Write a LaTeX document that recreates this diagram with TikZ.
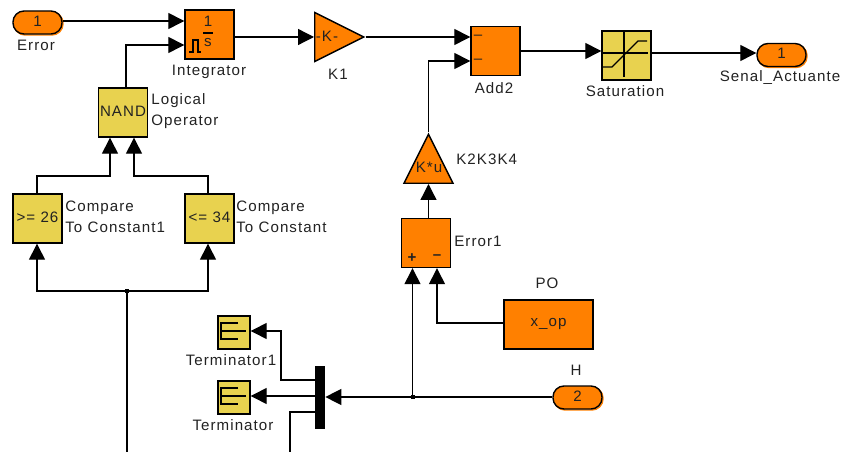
\documentclass[tikz,border=0pt]{standalone}
\usepackage{fontspec}
\setmainfont[LetterSpace=7]{Liberation Sans}
\usetikzlibrary{arrows.meta,shapes.geometric}
\definecolor{blockorange}{HTML}{FF8000}
\definecolor{blockyellow}{HTML}{E8D24F}
\definecolor{labelgray}{HTML}{222222}
\tikzset{
    orangebox/.style={draw,fill=blockorange,line width=.8pt,inner sep=0,minimum width=.98cm,minimum height=.98cm,text=labelgray,font=\fontsize{8.6}{10}\selectfont},
    yellowbox/.style={orangebox,fill=blockyellow},
    portbox/.style={orangebox,rounded corners=.22cm,minimum height=.46cm,preaction={draw=blockorange,transform canvas={shift={(.02cm,-.02cm)}}}},
    gainbox/.style={draw,fill=blockorange,line width=.8pt,isosceles triangle,isosceles triangle stretches,inner sep=0,minimum width=.98cm,minimum height=.98cm,anchor=lower side},
    lbl/.style={text=labelgray,font=\fontsize{8.6}{11.9}\selectfont,inner sep=0},
    sym/.style={text=labelgray,font=\fontsize{8.6}{10}\selectfont,inner sep=0},
    wire/.style={line width=.75pt,line join=miter},
    sig/.style={wire,-{Triangle[length=.32cm,width=.32cm]}}
}
\begin{document}
\begin{tikzpicture}[x=.02cm,y=-.02cm]
    \useasboundingbox (0,0) rectangle (849,452);
    % blocks
    \node[portbox] (err) at (37.5,22.5) {\raisebox{1.5pt}{1}};
    \node[orangebox] (integ) at (209.5,34.5) {};
    \node[yellowbox] (nand) at (123,112.5) {\raisebox{1.5pt}{NAND}};
    \node[yellowbox] (cmp1) at (37.5,218.5) {\raisebox{1.2pt}{>= 26}};
    \node[yellowbox] (cmp2) at (209.5,218.5) {\raisebox{1.2pt}{<= 34}};
    \node[gainbox] (k1) at (314,37) {};
    \node[orangebox] (add) at (495.5,51) {};
    \node[yellowbox] (sat) at (626.5,55.5) {};
    \node[portbox] (out) at (781.5,55) {\raisebox{1.5pt}{1}};
    \node[gainbox,shape border rotate=90] (ku) at (428.5,184) {};
    \node[orangebox] (diff) at (426,243) {};
    \node[orangebox,minimum width=1.78cm] (po) at (548.5,324.5) {x\_op};
    \node[portbox] (h) at (577.5,397.5) {\raisebox{1.5pt}{2}};
    \node[yellowbox,minimum width=.64cm,minimum height=.66cm] (term1) at (234,332.5) {};
    \node[yellowbox,minimum width=.64cm,minimum height=.66cm] (term0) at (234,397.5) {};
    \node[fill=black,inner sep=0,minimum width=.2cm,minimum height=1.26cm] (mux) at (320,397.5) {};
    % free ends and junctions
    \coordinate (trunk) at (127,452);
    \coordinate (split) at (127,291);
    \coordinate (tap) at (412.5,397);
    \coordinate (busend) at (290,452);
    % block contents
    \node[sym] (kt1) at (327,36) {-K-};
    \node[sym] (kt2) at (429,167) {K*u};
    \node[sym] (int1) at (208,21) {1};
    \node[sym] (ints) at (208,43) {s};
    \draw[wire] (203,33) -- (213,33);
    \draw[wire] (189,52) -- (193,52) -- (193,40) -- (198,40) -- (198,52) -- (201,52);
    \node[sym] (addm1) at (478,37) {–};
    \node[sym] (addm2) at (478,61) {–};
    \node[sym] (plus) at (412,258) {\bfseries +};
    \node[sym] (minus) at (437,257) {\bfseries –};
    \draw[wire] (624,32) -- (624,77);
    \draw[wire] (603,53) -- (648,53);
    \draw[wire] (603,67) -- (612,67) -- (638,41) -- (647,41);
    \draw[wire] (238,323) -- (221,323) -- (221,339) -- (238,339) (221,331) -- (246,331);
    \draw[wire] (238,388) -- (221,388) -- (221,404) -- (238,404) (221,396) -- (246,396);
    % labels
    \node[lbl] (errl) at (36,45) {Error};
    \node[lbl] (intl) at (209,72) {Integrator};
    \node[lbl,align=left,anchor=west] (nandl) at (151,111) {Logical\\Operator};
    \node[lbl,align=left,anchor=west] (cmp1l) at (65,216.5) {Compare\\To Constant1};
    \node[lbl,align=left,anchor=west] (cmp2l) at (236,216.5) {Compare\\To Constant};
    \node[lbl] (k1l) at (338,74) {K1};
    \node[lbl] (addl) at (494,88) {Add2};
    \node[lbl] (satl) at (625,91) {Saturation};
    \node[lbl] (outl) at (780,78) {Senal\_Actuante};
    \node[lbl,anchor=west] (kul) at (456,159) {K2K3K4};
    \node[lbl,anchor=west] (diffl) at (454,241) {Error1};
    \node[lbl] (pol) at (547,283) {PO};
    \node[lbl] (hl) at (576,370) {H};
    \node[lbl] (term1l) at (231,360) {Terminator1};
    \node[lbl] (term0l) at (233,425) {Terminator};
    % connectors
    \draw[sig] (err.east |- 0,21) -- (integ.west |- 0,21);
    \draw[sig] (nand.north -| 126,0) |- (integ.west |- 0,45);
    \draw[sig] (integ.east |- k1.lower side) -- (k1.lower side);
    \draw[sig] (k1.apex) -- (add.west |- k1.apex);
    \draw[sig] (ku.apex) |- (add.west |- 0,61);
    \draw[sig] (add.east) -- (sat.west |- add.east);
    \draw[sig] (sat.east |- 0,53) -- (out.west |- 0,53);
    \draw[sig] (cmp1.north -| 37,0) |- (110,176) -- (nand.south -| 110,0);
    \draw[sig] (cmp2.north -| 208,0) |- (134,176) -- (nand.south -| 134,0);
    \draw[wire] (trunk) -- (split);
    \draw[sig] (split) -| (cmp1.south -| 37,0);
    \draw[sig] (split) -| (cmp2.south -| 208,0);
    \draw[sig] (diff.north -| ku.lower side) -- (ku.lower side);
    \draw[sig] (tap) -- (diff.south -| tap);
    \draw[sig] (po.west |- 0,323) -| (diff.south -| 437,0);
    \draw[sig] (h.west |- tap) -- (mux.east |- tap);
    \draw[sig] (mux.west |- 0,380) -| (281,331) -- (term1.east |- 0,331);
    \draw[sig] (mux.west |- 0,396) -- (term0.east |- 0,396);
    \draw[wire] (mux.west |- 0,412) -| (busend);
    \fill (split) ++(-2,-2) rectangle ++(4,4);
    \fill (tap) ++(-2,-2) rectangle ++(4,4);
\end{tikzpicture}
\end{document}
